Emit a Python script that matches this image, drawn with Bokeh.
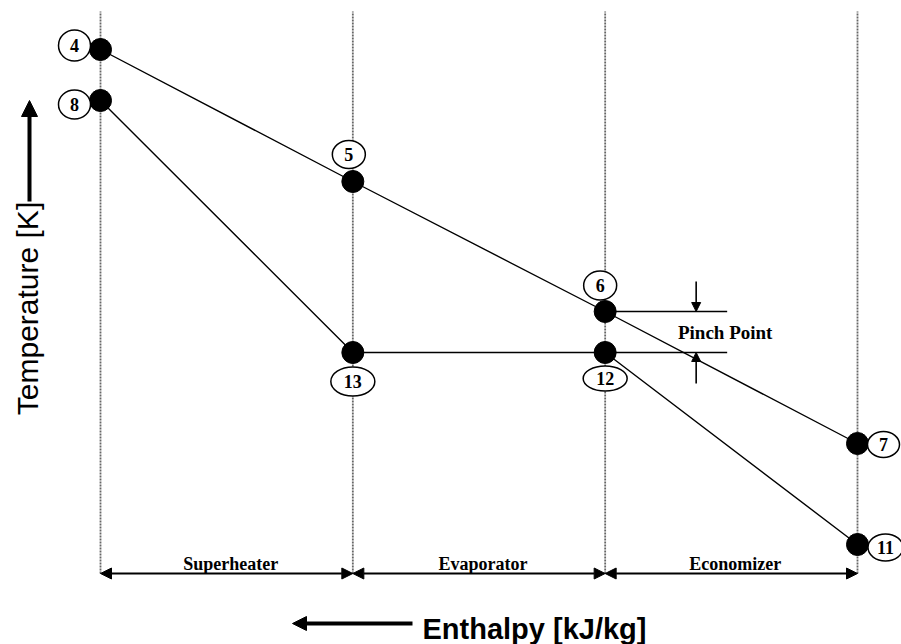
import numpy as np
from bokeh.plotting import figure
from bokeh.models import Range1d, Arrow, NormalHead, ColumnDataSource
from bokeh.core.properties import value
from bokeh.embed import file_html
from bokeh.resources import INLINE

# ---------------- data ----------------
stations = [0.0, 1.0, 2.0, 3.0]            # section boundaries (relative enthalpy)
sections = ["Superheater", "Evaporator", "Economizer"]
gas_labels = ["4", "5", "6", "7"]
gas_T = [595, 463, 333, 201]                # hot gas temperature (relative units)
steam_labels = ["8", "13", "12", "11"]
steam_T = [544, 292, 292, 100]              # water/steam temperature (relative units)

# label bubble offsets (screen px, dx right, dy up) and sizes (w, h)
gas_off = [(-26, 4), (-4, 27), (-5, 26), (26, -1)]
gas_size = [(32, 31), (33, 28), (33, 29), (32, 26)]
steam_off = [(-26, -4), (0, -29), (0, -26), (28, -3)]
steam_size = [(32, 29), (44, 29), (44, 25), (35, 27)]

PX = 757.0 / 3.0   # screen px per enthalpy unit
W, H = 901, 644

p = figure(width=W, height=H, output_backend="svg", toolbar_location=None,
           x_range=Range1d(-100.0 / PX, 3 + 44.0 / PX), y_range=Range1d(0, 644),
           min_border=0, background_fill_color="white", border_fill_color="white")
p.axis.visible = False
p.grid.visible = False
p.outline_line_color = None

serif = value("Liberation Serif")
sans = value("Liberation Sans")

# vertical dotted section boundaries
T_top, T_bot = 633, 71
p.segment(x0=stations, y0=[T_bot] * 4, x1=stations, y1=[T_top] * 4,
          line_color="#666666", line_width=1.8, line_dash="2 1")

# gas and steam lines
p.line(stations, gas_T, line_color="black", line_width=1.4)
p.line(stations, steam_T, line_color="black", line_width=1.4)

# pinch-point extension lines
x_pinch_end = 2 + 122.0 / PX
p.segment(x0=[stations[2], stations[2]], y0=[gas_T[2], steam_T[2]],
          x1=[x_pinch_end, x_pinch_end], y1=[gas_T[2], steam_T[2]],
          line_color="black", line_width=1.6)

x_arr = 2 + 91.0 / PX
def head(s):
    return NormalHead(size=s, fill_color="black", line_color="black", line_width=1)

p.add_layout(Arrow(end=head(9), x_start=x_arr, y_start=gas_T[2] + 30, x_end=x_arr,
                   y_end=gas_T[2], line_width=1.6))
p.add_layout(Arrow(end=head(9), x_start=x_arr, y_start=steam_T[2] - 31, x_end=x_arr,
                   y_end=steam_T[2], line_width=1.6))
p.text(x=[2 + 120.0 / PX], y=[(gas_T[2] + steam_T[2]) / 2.0], text=["Pinch Point"],
       text_font=serif, text_font_style="bold", text_font_size="19px",
       text_align="center", text_baseline="middle", text_color="black")

# points
p.scatter(stations, gas_T, size=22, fill_color="black", line_color="black")
p.scatter(stations, steam_T, size=22, fill_color="black", line_color="black")

# label bubbles
def bubbles(T, offs, sizes, labels):
    xs = [h + dx / PX for h, (dx, dy) in zip(stations, offs)]
    ys = [t + dy for t, (dx, dy) in zip(T, offs)]
    src = ColumnDataSource(dict(x=xs, y=ys, w=[s[0] for s in sizes],
                                h=[s[1] for s in sizes], t=labels))
    p.ellipse(x="x", y="y", width="w", height="h", width_units="screen",
              height_units="screen", source=src, fill_color="white",
              line_color="black", line_width=1.5)
    p.text(x="x", y="y", text="t", source=src, text_font=serif,
           text_font_style="bold", text_font_size="18px", text_align="center",
           text_baseline="middle", text_color="black")

bubbles(gas_T, gas_off, gas_size, gas_labels)
bubbles(steam_T, steam_off, steam_size, steam_labels)

# section double arrows and names
T_arrow = 71
for i in range(3):
    p.add_layout(Arrow(start=head(11), end=head(11), x_start=stations[i], y_start=T_arrow,
                       x_end=stations[i + 1], y_end=T_arrow, line_width=2))
mids = [(stations[i] + stations[i + 1]) / 2 for i in range(3)]
p.text(x=mids, y=[T_arrow + 10] * 3, text=sections, x_offset=4, text_font=serif,
       text_font_style="bold", text_font_size="18px", text_align="center",
       text_baseline="middle", text_color="black")

# axis titles with arrows
x_tlab = -71.0 / PX
p.add_layout(Arrow(end=head(16), x_start=x_tlab, y_start=443, x_end=x_tlab,
                   y_end=544, line_width=4))
p.text(x=[-73.0 / PX], y=[336], text=["Temperature [K]"], angle=np.pi / 2,
       text_font=sans, text_font_size="30px", text_align="center",
       text_baseline="middle", text_color="black")

p.add_layout(Arrow(end=head(14), x_start=312.0 / PX, y_start=21, x_end=192.0 / PX,
                   y_end=21, line_width=4))
p.text(x=[322.0 / PX], y=[16], text=["Enthalpy [kJ/kg]"], text_font=sans,
       text_font_style="bold", text_font_size="29px", text_align="left",
       text_baseline="middle", text_color="black")

open("out.html", "w").write(file_html(p, INLINE))
